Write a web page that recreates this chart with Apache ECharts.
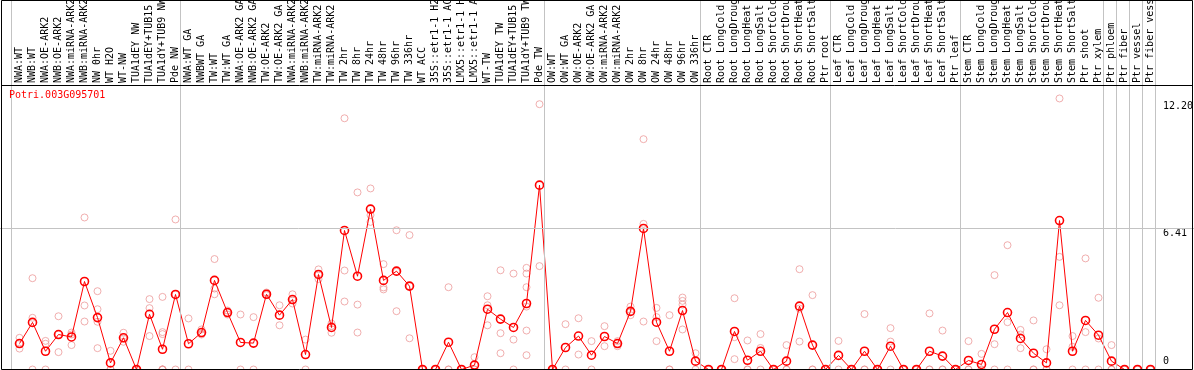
<!DOCTYPE html>
<html>
<head>
<meta charset="utf-8">
<script src="https://cdn.jsdelivr.net/npm/echarts@6/dist/echarts.min.js"></script>
<style>
  html, body { margin: 0; padding: 0; background: #ffffff; }
  #chart { width: 1194px; height: 370px; }
</style>
</head>
<body>
<div id="chart"></div>
<script>
// ---------------- DATA ----------------
const geneName = 'Potri.003G095701';

const categories = [
  'NWA:WT', 'NWB:WT', 'NWA:OE-ARK2', 'NWB:OE-ARK2', 'NWA:miRNA-ARK2', 'NWB:miRNA-ARK2',
  'NW 0hr', 'WT H2O', 'WT-NW', 'TUA1dEY NW', 'TUA1dEY+TUB15 NW', 'TUA1dY+TUB9 NW', 'Pde NW',
  'NWA:WT GA', 'NWBWT GA', 'TW:WT', 'TW:WT GA', 'NWA:OE-ARK2 GA', 'NWB:OE-ARK2 GA',
  'TW:OE-ARK2', 'TW:OE-ARK2 GA', 'NWA:miRNA-ARK2 GA', 'NWB:miRNA-ARK2 GA', 'TW:miRNA-ARK2',
  'TW:miRNA-ARK2 GA', 'TW 2hr', 'TW 8hr', 'TW 24hr', 'TW 48hr', 'TW 96hr', 'TW 336hr',
  'WT ACC', '35S::etr1-1 H2O', '35S::etr1-1 ACC', 'LMX5::etr1-1 H2O', 'LMX5::etr1-1 ACC',
  'WT-TW', 'TUA1dEY TW', 'TUA1dEY+TUB15 TW', 'TUA1dY+TUB9 TW', 'Pde TW',
  'OW:WT', 'OW:WT GA', 'OW:OE-ARK2', 'OW:OE-ARK2 GA', 'OW:miRNA-ARK2', 'OW:miRNA-ARK2 GA',
  'OW 2hr', 'OW 8hr', 'OW 24hr', 'OW 48hr', 'OW 96hr', 'OW 336hr',
  'Root CTR', 'Root LongCold', 'Root LongDrought', 'Root LongHeat', 'Root LongSalt',
  'Root ShortCold', 'Root ShortDrought', 'Root ShortHeat', 'Root ShortSalt', 'Ptr root',
  'Leaf CTR', 'Leaf LongCold', 'Leaf LongDrought', 'Leaf LongHeat', 'Leaf LongSalt',
  'Leaf ShortCold', 'Leaf ShortDrought', 'Leaf ShortHeat', 'Leaf ShortSalt', 'Ptr leaf',
  'Stem CTR', 'Stem LongCold', 'Stem LongDrought', 'Stem LongHeat', 'Stem LongSalt',
  'Stem ShortCold', 'Stem ShortDrought', 'Stem ShortHeat', 'Stem ShortSalt', 'Ptr shoot',
  'Ptr xylem', 'Ptr phloem', 'Ptr fiber', 'Ptr vessel', 'Ptr fiber vessel'
];

const meanValues = [
  1.18, 2.14, 0.83, 1.59, 1.48, 4.00, 2.36, 0.30, 1.44, 0,
  2.51, 0.92, 3.41, 1.17, 1.68, 4.05, 2.59, 1.23, 1.20, 3.42,
  2.47, 3.18, 0.68, 4.32, 1.91, 6.32, 4.24, 7.29, 4.05, 4.47,
  3.79, 0, 0, 1.24, 0, 0.20, 2.74, 2.29, 1.91, 3.00,
  8.38, 0, 1.00, 1.52, 0.65, 1.50, 1.18, 2.64, 6.41, 2.15,
  0.83, 2.68, 0.38, 0, 0, 1.73, 0.42, 0.83, 0, 0.38,
  2.88, 1.11, 0, 0.64, 0, 0.83, 0, 1.06, 0, 0,
  0.83, 0.61, 0, 0.41, 0.23, 1.83, 2.59, 1.41, 0.74, 0.30,
  6.77, 0.83, 2.23, 1.56, 0.38, 0, 0, 0
];

const replicateValues = [
  [1.44, 1.18, 0.95], [4.15, 2.35, 0], [1.30, 1.17, 0], [2.42, 1.59, 0.79], [1.68, 1.59, 1.11],
  [6.91, 2.91, 2.18], [3.56, 2.74, 2.17, 0.97], [0.85, 0, 0], [1.67, 1.41, 1.26], [0, 0, 0],
  [3.20, 2.79, 1.52], [3.30, 1.70, 1.61, 0, 0, 0, 0], [6.82, 3.41, 0], [2.32, 0], [1.82, 1.64, 1.59],
  [5.02, 3.68, 3.42], [2.68, 2.59, 2.50], [2.50, 0], [2.38, 0], [3.50, 3.42, 3.38],
  [2.92, 2.01], [3.42, 3.15, 3.00], [1.36, 0], [4.55, 4.32, 4.11], [2.09, 1.98, 1.67],
  [11.42, 4.50, 3.09], [8.05, 2.95, 1.68], [8.23, 7.02, 6.71], [4.79, 3.73, 3.64], [6.33, 4.44, 2.65],
  [6.11, 3.79, 1.42], [0, 0, 0], [0, 0, 0], [3.74, 0, 0], [0, 0, 0],
  [0.56, 0, 0], [3.33, 2.92, 2.01], [4.51, 1.65, 0.74], [4.36, 1.36, 0], [4.62, 4.36, 3.74, 2.86, 1.77, 0.65],
  [12.06, 4.70], [0, 0, 0], [2.06, 0], [2.33, 0.68], [1.29, 0],
  [1.97, 1.06], [1.29, 1.18, 1.06], [2.86, 2.64, 2.47], [10.47, 6.62, 2.18], [2.80, 2.38, 1.29],
  [2.47, 0, 0], [3.27, 3.12, 2.95, 1.82], [0.74, 0], [0, 0, 0], [0, 0, 0],
  [3.24, 1.47, 0.47], [1.32, 0, 0], [1.61, 0.98, 0], [0, 0, 0], [1.11, 0, 0],
  [4.56, 2.77, 1.27], [3.38, 0, 0], [0, 0, 0], [1.30, 0], [0, 0, 0],
  [2.52, 0, 0], [0, 0, 0], [1.88, 1.27, 0], [0, 0, 0], [0, 0, 0],
  [2.55, 0, 0], [1.77, 0, 0], [0, 0, 0], [1.29, 0, 0], [0.71, 0, 0],
  [4.29, 1.15, 0], [5.65, 2.15, 0], [1.80, 1.59, 0.97], [2.23, 0, 0], [0.92, 0, 0],
  [12.32, 5.12, 2.92], [1.52, 1.03, 0], [5.05, 1.70, 0], [3.26, 1.41, 0], [1.11, 0, 0],
  [0, 0, 0], [0, 0, 0], [0, 0, 0]
];

// index of the last category of each group (group separators)
const groupEnds = [0, 13, 41, 53, 63, 73, 84, 85, 86, 87, 88];

// y-axis tick labels
const yTopTicks = [6.41, 12.20];
const yBottomTicks = [0];
const refLineValue = 6.41;

// ---------------- LAYOUT ----------------
const W = 1194, H = 370;
const BAND = 13;          // px per category
const FIRST_X = 19.5;     // centre of first category
const PLOT_TOP = 85;
const ZERO_Y = 369.5;
const PX_PER_UNIT = 22;
const FONT = 'DejaVu Sans Mono';

const plotLeft = FIRST_X - BAND / 2;
const plotRight = W - (plotLeft + BAND * categories.length);
const yMaxPlot = (ZERO_Y - PLOT_TOP) / PX_PER_UNIT;
const yMaxFull = ZERO_Y / PX_PER_UNIT;
const xMinFull = 1 - FIRST_X / BAND;
const xMaxFull = 1 + (W - FIRST_X) / BAND;

const scatterData = [];
replicateValues.forEach((reps, i) => reps.forEach(v => scatterData.push([i, v])));
const lineData = meanValues.map((v, i) => [i, v]);

const grey = '#c3c3c3';
const red = '#ff0000';
const pink = '#ec9a9a';

const chart = echarts.init(document.getElementById('chart'), null, { renderer: 'canvas' });

const yLabelBase = { fontFamily: FONT, fontSize: 10, color: '#000', margin: 6, align: 'left' };

chart.setOption({
  animation: false,
  backgroundColor: '#ffffff',
  title: {
    text: geneName,
    left: 9, top: 90, padding: 0,
    textStyle: { color: red, fontFamily: FONT, fontSize: 10, fontWeight: 'normal' }
  },
  grid: [
    { left: 0, right: 0, top: 0, bottom: H - ZERO_Y, containLabel: false, outerBoundsMode: 'none' },
    { left: plotLeft, right: plotRight, top: PLOT_TOP, bottom: H - ZERO_Y, containLabel: false, outerBoundsMode: 'none' }
  ],
  xAxis: [
    { gridIndex: 0, type: 'value', min: xMinFull, max: xMaxFull, show: false },
    {
      gridIndex: 1, type: 'category', data: categories, position: 'top', boundaryGap: true,
      axisLine: { show: false }, axisTick: { show: false }, splitLine: { show: false },
      axisLabel: { interval: 0, rotate: 90, margin: 2, fontFamily: FONT, fontSize: 10, color: '#000' }
    }
  ],
  yAxis: [
    {
      gridIndex: 1, type: 'value', min: 0, max: yMaxPlot, position: 'right',
      axisLine: { show: false }, axisTick: { show: false }, splitLine: { show: false },
      axisLabel: Object.assign({}, yLabelBase, {
        customValues: yTopTicks, verticalAlign: 'top',
        formatter: v => v === 0 ? '0' : Number(v).toFixed(2)
      })
    },
    {
      gridIndex: 1, type: 'value', min: 0, max: yMaxPlot, position: 'right',
      axisLine: { show: false }, axisTick: { show: false }, splitLine: { show: false },
      axisLabel: Object.assign({}, yLabelBase, {
        customValues: yBottomTicks, verticalAlign: 'bottom', padding: [0, 0, 3, 0],
        formatter: v => v === 0 ? '0' : Number(v).toFixed(2)
      })
    },
    { gridIndex: 0, type: 'value', min: 0, max: yMaxFull, show: false }
  ],
  series: [
    {
      name: 'guides', type: 'line', xAxisIndex: 0, yAxisIndex: 2, data: [], silent: true,
      markLine: {
        silent: true, symbol: ['none', 'none'], label: { show: false },
        lineStyle: { color: grey, width: 1, type: 'solid' },
        data: groupEnds.map(k => ({ xAxis: k + 5 / BAND })).concat([{ yAxis: refLineValue }])
      }
    },
    {
      name: 'replicates', type: 'scatter', xAxisIndex: 1, yAxisIndex: 0, data: scatterData,
      symbol: 'circle', symbolSize: 7, silent: true, z: 3,
      itemStyle: { color: 'rgba(0,0,0,0)', borderColor: pink, borderWidth: 1 }
    },
    {
      name: geneName, type: 'line', xAxisIndex: 1, yAxisIndex: 0, data: lineData,
      symbol: 'circle', symbolSize: 8, showAllSymbol: true, silent: true, z: 4,
      lineStyle: { color: red, width: 1 },
      itemStyle: { color: 'rgba(0,0,0,0)', borderColor: red, borderWidth: 1.6 }
    }
  ],
  graphic: [
    {
      type: 'rect', z: 100, silent: true,
      shape: { x: 1.5, y: 0.5, width: W - 3, height: ZERO_Y - 0.5 },
      style: { fill: 'transparent', stroke: '#000', lineWidth: 1 }
    },
    {
      type: 'line', z: 100, silent: true,
      shape: { x1: 1.5, y1: PLOT_TOP + 0.5, x2: W - 1.5, y2: PLOT_TOP + 0.5 },
      style: { stroke: '#000', lineWidth: 1 }
    }
  ]
});
</script>
</body>
</html>
